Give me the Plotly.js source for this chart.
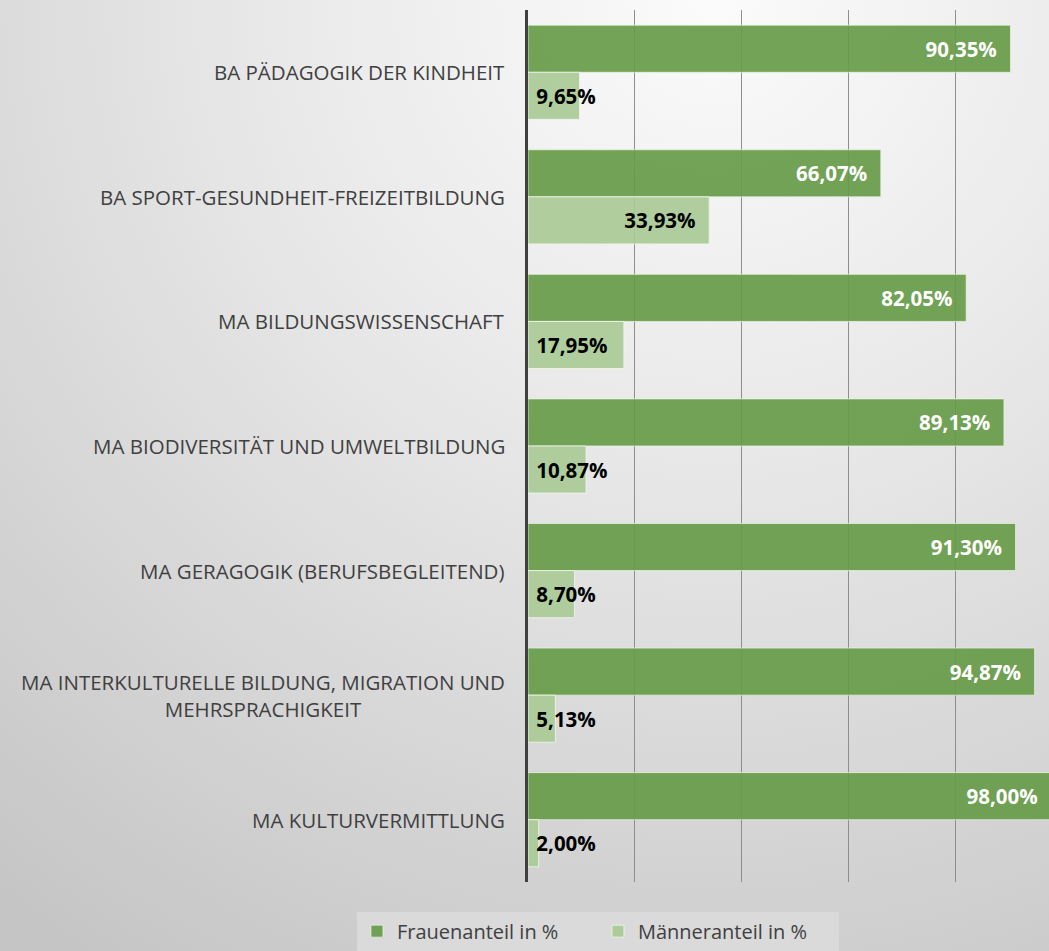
<!DOCTYPE html>
<html>
<head>
<meta charset="utf-8">
<script src="https://cdn.plot.ly/plotly-3.0.1.min.js"></script>
<style>
  html, body { margin: 0; padding: 0; width: 1049px; height: 951px; overflow: hidden; }
  body { background: radial-gradient(ellipse 110% 120% at 68% 0%, #fbfbfb 0%, #e8e8e8 40%, #c5c5c5 100%); }
  #chart { width: 1062px; height: 951px; }
</style>
</head>
<body>
<div id="chart"></div>
<script>
const categories = [
  "BA PÄDAGOGIK DER KINDHEIT",
  "BA SPORT-GESUNDHEIT-FREIZEITBILDUNG",
  "MA BILDUNGSWISSENSCHAFT",
  "MA BIODIVERSITÄT UND UMWELTBILDUNG",
  "MA GERAGOGIK (BERUFSBEGLEITEND)",
  "MA INTERKULTURELLE BILDUNG, MIGRATION UND<br>MEHRSPRACHIGKEIT",
  "MA KULTURVERMITTLUNG"
];
const frauen = [90.35, 66.07, 82.05, 89.13, 91.30, 94.87, 98.00];
const maenner = [9.65, 33.93, 17.95, 10.87, 8.70, 5.13, 2.00];
const seriesNames = ["Frauenanteil in %", "Männeranteil in %"];

const FONT = "'Open Sans', 'Noto Sans', sans-serif";
const colF = "rgba(103,155,72,0.92)";
const colM = "rgba(170,203,150,0.92)";
const BW = 0.378;

const menLong = maenner.map(v => v >= 25 ? v : null);
const menShort = maenner.map(v => v < 25 ? v : null);

const labelFont = (color) => ({ family: FONT, size: 20.5, color: color, weight: 700 });

const traces = [
  {
    type: "bar", orientation: "h", name: seriesNames[0],
    y: categories, x: frauen,
    width: BW, offset: -BW,
    marker: { color: colF, line: { color: "rgba(235,245,230,0.7)", width: 1 } },
    texttemplate: "%{x:.2f}%\u00a0\u00a0",
    textposition: "inside", insidetextanchor: "end", constraintext: "none", textangle: 0,
    textfont: labelFont("#ffffff"),
    hoverinfo: "skip"
  },
  {
    type: "bar", orientation: "h", name: seriesNames[1], legendgroup: "m",
    y: categories, x: menLong,
    width: BW, offset: 0,
    marker: { color: colM, line: { color: "rgba(240,248,236,0.8)", width: 1 } },
    texttemplate: "%{x:.2f}%\u00a0\u00a0",
    textposition: "inside", insidetextanchor: "end", constraintext: "none", textangle: 0,
    textfont: labelFont("#000000"),
    hoverinfo: "skip"
  },
  {
    type: "bar", orientation: "h", name: seriesNames[1], legendgroup: "m", showlegend: false,
    y: categories, x: menShort,
    width: BW, offset: 0,
    marker: { color: colM, line: { color: "rgba(240,248,236,0.8)", width: 1 } },
    texttemplate: "\u00a0%{x:.2f}%",
    textposition: "inside", insidetextanchor: "start", constraintext: "none", textangle: 0,
    textfont: labelFont("#000000"),
    hoverinfo: "skip"
  }
];

const annotations = categories.map(c => ({
  xref: "paper", x: 0, xanchor: "right", xshift: -21,
  yref: "y", y: c, yanchor: "middle",
  text: c, showarrow: false, align: "center",
  font: { family: FONT, size: 20.5, color: "#404040" }
}));

const layout = {
  width: 1062, height: 951,
  margin: { l: 528, r: 0, t: 10, b: 69, pad: 0 },
  paper_bgcolor: "rgba(0,0,0,0)",
  plot_bgcolor: "rgba(0,0,0,0)",
  barmode: "overlay",
  separators: ",.",
  showlegend: true,
  legend: {
    orientation: "h", x: 0.131, xanchor: "center", y: -0.034, yanchor: "top",
    bgcolor: "#dadada", borderwidth: 0,
    font: { family: FONT, size: 20, color: "#404040" },
    entrywidth: 196, entrywidthmode: "pixels",
    tracegroupgap: 0
  },
  xaxis: {
    range: [0, 100], dtick: 20, tick0: 0,
    showgrid: true, gridcolor: "#8e8e8e", gridwidth: 1.2,
    showticklabels: false, zeroline: false, showline: false, ticks: ""
  },
  yaxis: {
    type: "category", autorange: "reversed",
    showticklabels: false, ticks: "", showgrid: false, zeroline: false,
    showline: true, linecolor: "#404040", linewidth: 3
  },
  annotations: annotations
};

Plotly.newPlot("chart", traces, layout, { displayModeBar: false, staticPlot: true });
</script>
</body>
</html>
